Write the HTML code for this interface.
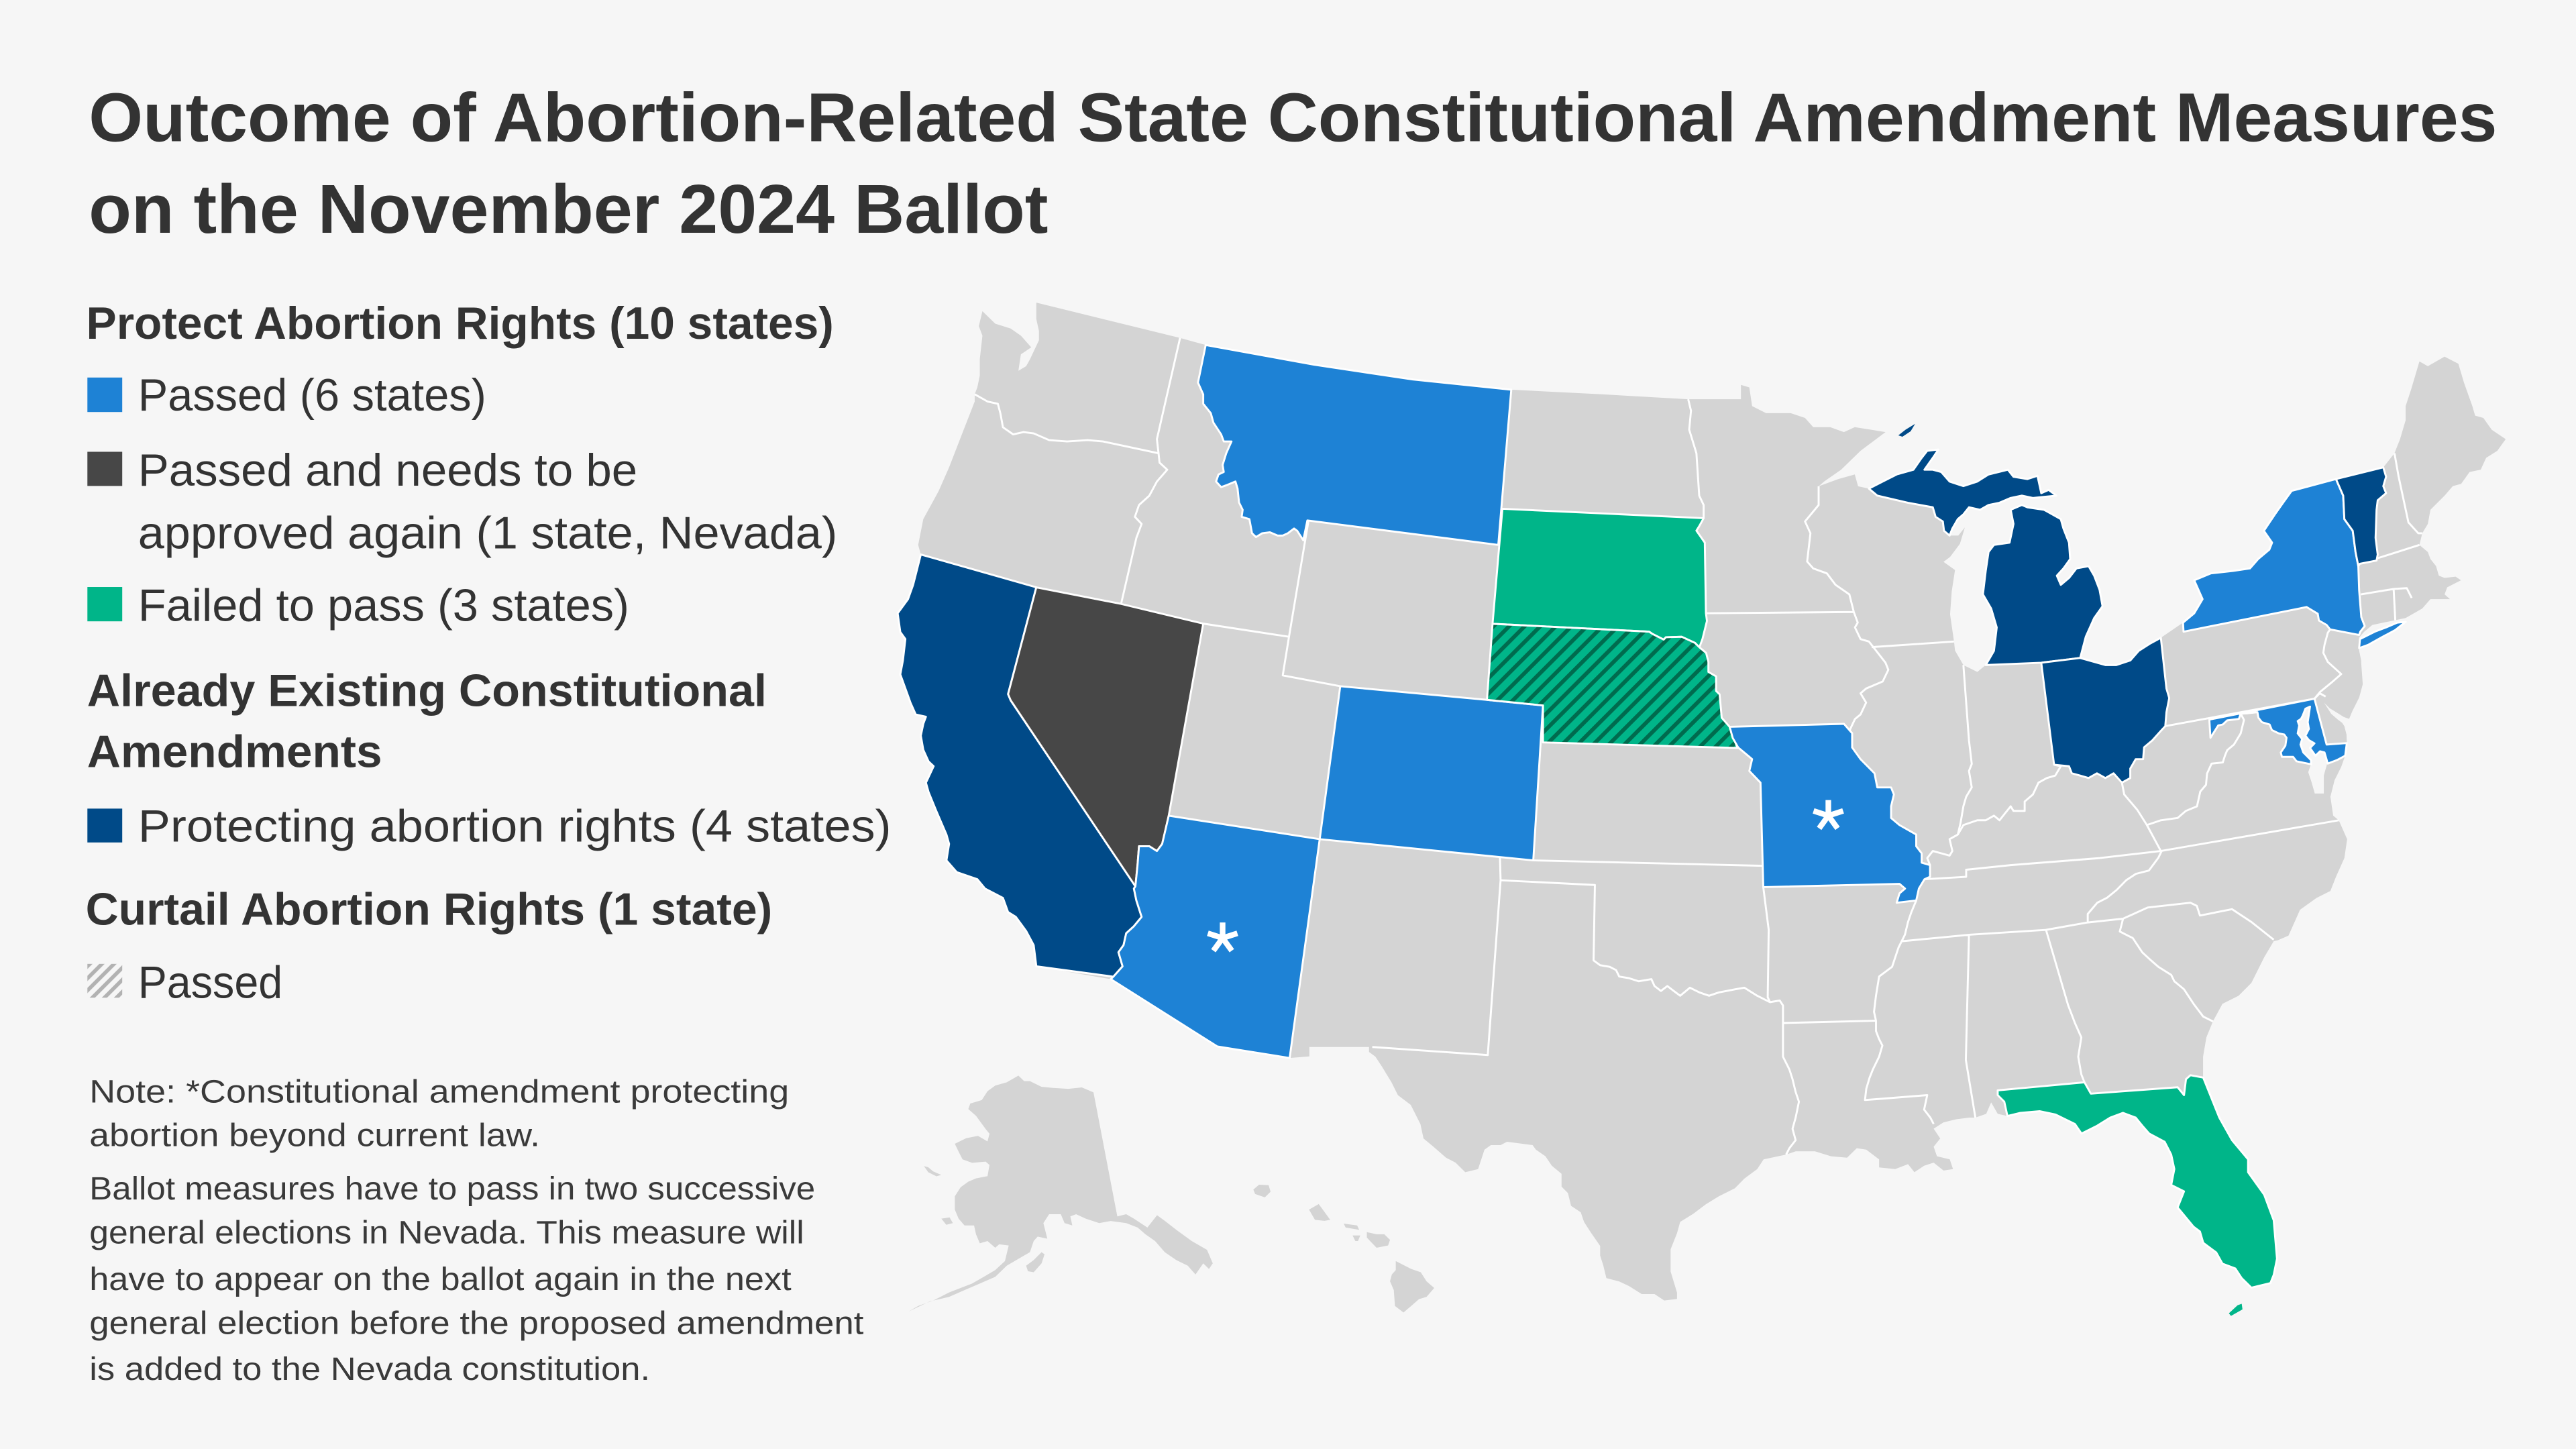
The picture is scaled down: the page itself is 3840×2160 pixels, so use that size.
<!DOCTYPE html>
<html><head><meta charset="utf-8"><style>html,body{margin:0;padding:0;background:#f6f6f6;overflow:hidden}svg{display:block}</style></head>
<body>
<svg xmlns="http://www.w3.org/2000/svg" width="3840" height="2160" viewBox="0 0 1568 882">
<defs>
<pattern id="hatch" patternUnits="userSpaceOnUse" width="6.7" height="6.7" patternTransform="rotate(45)">
<rect width="6.7" height="6.7" fill="#00b589"/><rect width="2.4" height="6.7" fill="#006b4e"/>
</pattern>
<pattern id="lhatch" patternUnits="userSpaceOnUse" width="5.2" height="5.2" patternTransform="rotate(45)">
<rect width="2.3" height="5.2" fill="#b2b2b2"/>
</pattern>
</defs>
<rect width="1568" height="882" fill="#f6f6f6"/>

<g font-family="'Liberation Sans', Arial, sans-serif" fill="#333333">
<text x="54" y="86" font-size="42" font-weight="bold" textLength="1466" lengthAdjust="spacingAndGlyphs">Outcome of Abortion-Related State Constitutional Amendment Measures</text>
<text x="54" y="141.6" font-size="42" font-weight="bold" textLength="584" lengthAdjust="spacingAndGlyphs">on the November 2024 Ballot</text>

<text x="52.5" y="206.2" font-size="27.5" font-weight="bold" textLength="455" lengthAdjust="spacingAndGlyphs">Protect Abortion Rights (10 states)</text>
<rect x="53.2" y="229.8" width="21.2" height="21" fill="#1e82d5"/>
<text x="84" y="249.8" font-size="27.5" textLength="212" lengthAdjust="spacingAndGlyphs">Passed (6 states)</text>
<rect x="53.2" y="275" width="21.2" height="20.8" fill="#474747"/>
<text x="84" y="295.7" font-size="27.5" textLength="304" lengthAdjust="spacingAndGlyphs">Passed and needs to be</text>
<text x="84" y="333.8" font-size="27.5" textLength="425.7" lengthAdjust="spacingAndGlyphs">approved again (1 state, Nevada)</text>
<rect x="53.2" y="357.3" width="21.2" height="20.9" fill="#00b589"/>
<text x="84" y="378" font-size="27.5" textLength="299" lengthAdjust="spacingAndGlyphs">Failed to pass (3 states)</text>

<text x="53" y="429.7" font-size="27.5" font-weight="bold" textLength="413.7" lengthAdjust="spacingAndGlyphs">Already Existing Constitutional</text>
<text x="53" y="467" font-size="27.5" font-weight="bold" textLength="179.6" lengthAdjust="spacingAndGlyphs">Amendments</text>
<rect x="53.2" y="492.2" width="21.2" height="20.6" fill="#004a88"/>
<text x="84" y="512.2" font-size="27.5" textLength="458.5" lengthAdjust="spacingAndGlyphs">Protecting abortion rights (4 states)</text>

<text x="52.1" y="562.9" font-size="27.5" font-weight="bold" textLength="418" lengthAdjust="spacingAndGlyphs">Curtail Abortion Rights (1 state)</text>
<rect x="53.2" y="586.7" width="21.2" height="20.6" fill="url(#lhatch)"/>
<text x="84" y="607.3" font-size="27.5" textLength="88" lengthAdjust="spacingAndGlyphs">Passed</text>

<g font-size="19.6" fill="#3a3a3a">
<text x="54.4" y="671" textLength="425.9" lengthAdjust="spacingAndGlyphs">Note: *Constitutional amendment protecting</text>
<text x="54.4" y="697.6" textLength="274.3" lengthAdjust="spacingAndGlyphs">abortion beyond current law.</text>
<text x="54.4" y="730.2" textLength="441.8" lengthAdjust="spacingAndGlyphs">Ballot measures have to pass in two successive</text>
<text x="54.4" y="756.8" textLength="435.1" lengthAdjust="spacingAndGlyphs">general elections in Nevada. This measure will</text>
<text x="54.4" y="785.3" textLength="427.3" lengthAdjust="spacingAndGlyphs">have to appear on the ballot again in the next</text>
<text x="54.4" y="811.9" textLength="471.3" lengthAdjust="spacingAndGlyphs">general election before the proposed amendment</text>
<text x="54.4" y="840" textLength="341.3" lengthAdjust="spacingAndGlyphs">is added to the Nevada constitution.</text>
</g>
</g>

<!-- US silhouette -->
<polygon fill="#d4d4d4" points="598,189.4 605.8,197 615.2,200 621.4,204.3 627.7,211.4 621.4,215.7 619.9,225.7 624.6,222.9 627,218.6 632.4,207.1 632.4,201.4 630.8,194.2 630.8,184.2 718.3,205.7 733.9,210 800,222 860,231 919.9,237.2 975,240 1027.6,243 1059.7,243 1059.7,234.3 1064.8,235.8 1066.5,247.2 1075,251.5 1090,251.5 1098.7,254.4 1103.7,260 1114,260 1122.4,263 1129,260 1139,261.6 1147.7,263 1132.5,274.4 1120.7,285.9 1110.5,293 1107,296 1119,291.6 1129,288.8 1131,296 1137.6,297.4 1146,293.1 1154.5,288.8 1164.7,285.9 1169.7,278.7 1173.1,274.4 1179.9,273.6 1176.5,278.7 1171.4,285.9 1176.5,285.9 1181.6,287.3 1186.7,293.1 1195.1,295.9 1203.6,293.1 1210.4,288.8 1222.2,285.9 1225.6,290.2 1234.1,291.6 1240.2,289.6 1242.5,300.2 1247,298.2 1251.7,301.7 1237.4,303.1 1230.7,301.7 1223.9,303.1 1217.1,306 1210.4,307.4 1205.3,310.3 1198.5,308.8 1195.1,313.1 1191.7,316 1188.4,321.7 1186.7,326 1192,326 1196,321 1193,331 1187,339 1183,342 1190,347 1188,360 1187,374 1189.4,390.5 1190,396 1195.1,404.8 1203.6,409 1208.7,404.8 1213.7,396.2 1215.4,381.9 1212,370.4 1207,361.8 1208.7,347.5 1210.4,336 1213.7,331.7 1223.2,330.3 1225.6,318.9 1223.9,310.3 1230.7,307.4 1234.1,308.8 1244.2,310.3 1254.4,316 1256,321.7 1259.4,330.3 1260.1,340.3 1256,346 1252,350.4 1254.4,356 1259.4,351.8 1263.9,346 1271.3,344.6 1274.7,350.4 1278,359 1279.8,369 1274.7,376.2 1269.6,387.6 1266.2,400.5 1281.5,404.8 1288.2,404.8 1296.7,402 1301.8,396.2 1308.5,391.9 1315.3,388.2 1328.8,379 1335.6,373.3 1340.7,364.7 1335.6,353.2 1345.8,349 1359.3,347.5 1369.5,346 1374.5,340.3 1381.3,334.6 1383,330.3 1378,323.1 1384.7,313.1 1389.7,306 1394.9,298.8 1421.9,291.6 1450.7,284.5 1457.5,275.9 1460.9,267.3 1464.3,255.8 1464.3,247.2 1467.6,237.2 1472.7,220 1477.8,222.9 1488,217.1 1496.4,221.4 1499.8,232.9 1504.9,247.2 1506.6,253 1511.6,254.4 1516.7,261.6 1525.2,267.3 1520.1,274.4 1513.3,278.7 1510,285.9 1503.2,287.3 1498.1,294.5 1493,295.9 1488,301.7 1479.4,310.3 1477.8,318.9 1474.4,324.6 1472.7,331.7 1477.8,336 1479.4,340.3 1482.8,344.6 1484.5,350.4 1488,351.8 1494.7,351 1498,353.2 1489.6,357.5 1488,361.8 1491.3,364.7 1484.5,364.7 1479.4,364.7 1474.4,370.4 1464.3,376.2 1457.5,377.6 1444,380.4 1438.9,384.7 1436,388 1436,396 1437.2,401.9 1437.3,404.2 1438.2,416.5 1436,424.6 1431.9,432.8 1429.9,437.6 1424,435.5 1419,432 1415.5,428.5 1419,434 1424,437.5 1427,442 1428.3,447 1428.5,452.3 1427.5,460 1425,467 1421,475 1418.5,485 1420.2,496.5 1423.6,499.3 1428.7,510.8 1427,522.3 1421.9,533.7 1418.5,542.3 1410,546.6 1400,553.8 1393,569.5 1386.4,572.4 1384,572.9 1378.2,582.7 1374.3,590.5 1370.4,598.3 1362.6,606.1 1352.8,611 1347,621.7 1343,631.5 1341,643.2 1341,655 1347,670.6 1350.9,680.3 1358.6,694 1368.4,705.7 1368.4,713.5 1378.2,727.2 1384,742.8 1386,766.2 1384,776 1382,781 1370.4,783.8 1364.5,778 1360.6,772.1 1352.8,769.2 1349,762.4 1341.1,756.5 1339.1,749.6 1335.2,746.7 1325.5,735 1329.4,725.2 1321.6,721.3 1323.5,711.6 1321.6,702.8 1317.6,695 1308.2,690 1304,685.2 1300,680.3 1292.3,677.4 1284.5,680.3 1276.6,685.2 1267,690 1263,684.2 1251.2,678.4 1241.5,676.4 1229.8,677.4 1222,679.3 1216,678 1212,671 1209,678 1202.4,680.3 1198.5,680.3 1190.7,681.3 1183,683.2 1177,687 1181,693 1177,698 1179,703.8 1186.8,705.7 1188.8,711.6 1183,712.5 1177,707.7 1171.2,709.6 1165.3,713.5 1161.4,708.6 1153.6,711.6 1143.8,710.6 1143.8,705.7 1136,699.8 1130.2,698.9 1124.3,704.7 1114.5,703.8 1104.8,700.8 1093,700.8 1087.2,702.8 1073.5,705.7 1069.6,711.6 1061.8,717.4 1056,723.3 1046.2,728.2 1038.4,733 1030.6,738.9 1022.7,743.8 1020.8,750.6 1016.9,760.4 1016.9,774 1020.8,786.8 1020.8,790.7 1013,791.6 1007.1,787.7 999.3,787.7 991.5,782.8 985.6,780 977.8,778 975.9,770.2 974,764.3 974,758.4 968,749.7 964.2,743.8 962.2,737.9 956.3,734 954.4,726.2 950.5,722.3 950.5,714.5 944.6,709.6 940.7,703.8 934.9,699.8 932.9,697 925.1,696 917.3,695 913.4,697 907.5,697 903.6,699.8 899.7,711.6 891.9,713.5 886,707.7 880.2,704.7 872.4,697.9 866.5,693 864.6,684.2 858.7,672.5 850.9,666.6 847,658.8 841.1,649.1 837.2,643.2 833.3,640.3 833.3,637.3 797,637.3 797,643 785,644 741,637 676.1,596 630.8,588.2 629.2,575.3 624.6,566.7 618.3,558.1 613.6,555.2 610.5,546.6 599.6,540.9 594.9,535.2 582.4,530.9 576.1,523.7 577.7,513.7 576.1,508 573,500.8 569.9,493.6 565.2,482.1 563.6,476.4 568.3,466.4 565.2,463.5 562,456.4 560.5,447.8 562,440.6 563.6,436.3 557.4,434.9 554.2,427.7 551.1,419.1 548,410.5 549.6,402 551.1,389 548,384.7 546.4,373.3 552.7,364.7 555.8,356 560.5,337.5 558.9,331.7 562,316 566.7,307.4 571.4,298.8 577.7,284.5 585.5,264.4 593.3,244.4 593.3,240 594.9,235.8 596.4,228.6 596.4,218.6 598,204.3 595.8,198.5"/>

<!-- Chesapeake, Delaware bay, SF bay -->
<polygon fill="#f6f6f6" points="1403.3,431.4 1406.1,430.1 1404.7,439.6 1405.4,443.7 1403.3,447.8 1405.4,450.5 1408.8,452.5 1406.1,455.3 1409.4,460 1412.2,457.3 1414.9,458 1416.5,465 1414.5,472 1414.5,483 1409,483 1407,476 1405,470 1406.7,465.2 1406.7,462.7 1402,458 1400.3,453.2 1401.3,449.8 1398.6,446.4 1399.5,441.6 1398.6,438.9 1400.6,437.6 1401.7,435.5"/>

<!-- gray interior borders -->
<path fill="none" stroke="#ffffff" stroke-width="1.2" stroke-linejoin="round" d="M593.3,240 L601.1,244.4 607.4,245.8 608.9,251.5 610.5,260.1 616.7,264.4 623,263 629.2,263.8 638.6,267.9 649.6,268.7 662,267.9 671.4,268.7 705.2,275.9
M718.3,205.7 L704.2,267.3 705.2,275.9 705.8,281.6 710.5,285.9 704.2,293.1 699.6,301.7 693.3,307.4 690.8,314.6 694.9,318.9 691.7,327.4 682.4,367.6
M732.4,379.6 L784.6,387.6
M796.4,317.4 L784.6,387.6 780.8,411.1 815.8,417.7
M1027.6,243 L1029.3,250 1028.2,261.5 1032.6,275.9 1034.3,301.7 1037,307.4 1037,315.4
M1038.4,373.3 L1128.4,372.5
M1107,296 L1107,307.4 1098.7,317.4 1102,324.6 1100,341.8 1103.7,346 1112,349 1117.3,356 1125.7,361.8 1128.4,372.5 1130.8,379 1129.1,381.9 1132.5,389 1137.6,390.5 1141,394.8 1147.7,403.4 1149.4,407.7 1146,414.8 1135.9,419.1 1132.5,422 1135.9,427.7 1132.5,434.9 1129.1,437.7 1125.7,444.9
M1139.3,393.9 L1189.4,390.5
M1195.1,404.8 L1196.8,427.7 1198.5,450.6 1200.2,465 1198.5,469.3 1200.2,479.3 1196.8,485 1195.1,490.8 1193.4,500.8 1191.7,508 1186.7,510.8 1188.4,518 1186.7,520.8 1181.6,519.4 1176.5,518 1173.1,522.3 1174.8,526.6
M1191.7,508 L1195.1,502.2 1203.6,499.3 1208.7,499.3 1213.7,496.5 1217.1,499.3 1220.5,495 1223.9,490.8 1225.6,493.6 1232.4,493.6 1232.4,487.9 1237.4,483.6 1240.8,476.4 1245.9,473.6 1251,472.1 1254.4,466.4 1250.3,465.5
M933.3,523.7 L1072.7,527
M913,521.7 L913.4,535.8 970.8,538.7 970,584.6 974,587.5 979.8,588.5 983.7,590.5 985.6,594.4 991.5,595.4 997.4,597.3 1005.2,596 1007.1,600.2 1011,603.2 1014.9,600.2 1018.8,603.2 1022.7,606.1 1028.6,601.2 1034.5,604.1 1040.3,606.1 1046.2,604.1 1056,602.2 1061.8,601.2 1069.6,606.1 1077.4,610 1083.3,609 1085.3,612 1085.3,622.7 1085.3,643.2 1089.2,651 1091.1,656.9 1093,664.7 1095,670.6 1093,680.3 1091.1,687.1 1093,694 1089.2,698.9 1087.2,702.8
M1073.3,540 L1076.6,566 1076,607 1077.4,610
M913.4,535.8 L905.6,642.2 835.3,637.3
M1085.3,622.7 L1141.9,621.3
M1166.4,548.1 L1163.4,555.3 1161.4,561.2 1159.5,569 1155.6,576.8 1151.7,588.5 1143.8,594.4 1141.9,606.1 1140.7,615.9 1141.9,621.3 1141.9,627.6 1143.8,632.5 1145.8,636.4 1143.8,643.2 1140,651 1138,656 1136,662.7 1135.2,669.6 1173.1,666.6 1171.2,675.4 1175,680.3 1177,684.2
M1157,573 L1198.5,569 1245.4,566 1270.8,561.5 1292.3,559.2
M1198.5,569 L1196.6,645.2 1202.4,680.3
M1245.4,566 L1258.9,612 1263,622.7 1266.9,631.5 1265,643.2 1266.9,654 1268.8,658.8
M1292.3,559.2 L1290.3,567 1298.2,571 1304,579.7 1308.2,583.6 1313.8,588.5 1321.6,593.4 1323.5,597.3 1329.4,602.2 1335.2,611 1341.1,618.8 1347,621.7
M1292.3,559.2 L1307.3,552.4 1333.3,549.5 1337.2,551.4 1339.1,557.3 1358.6,553.4 1370.4,561.2 1384,572
M1270.8,561.5 L1270.8,556.3 1276.6,549.5 1282.5,546.5 1288.4,541.7 1294.2,535.8 1300.1,531.9 1308,529.9 1313.8,522.1 1315.7,518.2
M1171.4,535.2 L1196.8,533.7 1196.8,529.4 1223.9,526.6 1278.1,522.3 1315.3,518 1423.6,499.3
M1315.3,518 L1306.8,502.2 1301,493 1293,483.6 1291.6,476.4
M1306.8,502.2 L1315.3,499.3 1325.5,497.9 1330.5,493.6 1337.3,490.8 1339.3,481.8 1342.8,477.7 1343.4,470.9 1346.2,464.8 1353,464.1 1354.3,460 1355.7,456.6 1359.8,453.2 1363.9,446.4 1365.9,438.2 1363.9,434.4
M1318,442 L1408.8,425.3 1412,422 1415.6,424
M1418.3,383.1 L1416.9,385.2 1414.9,392.6 1414.2,397.4 1416.9,402.9 1425.1,410.3 1419.6,415.1 1412.2,421.2 1408.8,425.3
M1457.5,275.9 L1460,290 1466,318 1472,324.6 1474.4,324.6
M1446.6,340 L1472.7,331.7
M1437,361.8 L1457,358.5 1465,358 1468,364
M1457,358.5 L1458,377.5"/>

<g stroke="#ffffff" stroke-width="1.2" stroke-linejoin="round">
<!-- California -->
<polygon fill="#004a88" points="560.5,337.5 630.8,357.5 613.6,422.5 615.2,426.3 691.1,539.5 690.2,540.9 691.7,548.1 694.9,558.1 690.2,563.8 685.5,568.1 683.9,575.3 680.8,579.6 683.3,588.2 677.7,594.5 630.8,588.2 629.2,575.3 624.6,566.7 618.3,558.1 613.6,555.2 610.5,546.6 599.6,540.9 594.9,535.2 582.4,530.9 576.1,523.7 577.7,513.7 576.1,508 573,500.8 569.9,493.6 565.2,482.1 563.6,476.4 568.3,466.4 565.2,463.5 562,456.4 560.5,447.8 562,440.6 563.6,436.3 557.4,434.9 554.2,427.7 551.1,419.1 548,410.5 549.6,402 551.1,389 548,384.7 546.4,373.3 552.7,364.7 555.8,356"/>
<!-- Nevada -->
<polygon fill="#474747" points="630.8,357.5 682.4,367.6 732.4,379.6 711.4,496.5 707.4,513.7 704.2,518 699.6,515.1 693.3,515.1 692.4,526.6 691.1,539.5 615.2,426.3 613.6,422.5"/>
<!-- Arizona -->
<polygon fill="#1e82d5" points="711.4,496.5 803.3,510.8 785,644 741,637 676.1,596 677.7,594.5 683.3,588.2 680.8,579.6 683.9,575.3 685.5,568.1 690.2,563.8 694.9,558.1 691.7,548.1 690.2,540.9 691.1,539.5 692.4,526.6 693.3,515.1 699.6,515.1 704.2,518 707.4,513.7"/>
<!-- Montana -->
<polygon fill="#1e82d5" points="733.9,210 800,222 860,231 919.9,237.2 912,331.7 795.8,316.8 793.3,328.9 789.6,323.1 787.7,321.7 783.9,324.6 780.8,326 777.7,326 773,324 768.3,324.6 764.5,326.9 762.1,324.6 760.5,316 755.8,314.6 756.4,310.3 754.2,305.9 753.3,297.4 752,293.1 746.4,295.4 743.3,296.5 740.2,293.1 741.7,288.8 744.9,287.3 744.2,283 746.4,275.9 749.6,268.7 744.9,268.7 743.3,264.4 738.6,257.3 737,251.5 732.4,245.8 732.4,240.1 729.2,232.9"/>
<!-- Colorado -->
<polygon fill="#1e82d5" points="815.8,417.7 905.1,426 939.2,429.4 933.3,523.7 803.3,510.8"/>
<!-- South Dakota -->
<polygon fill="#00b589" points="914.5,309.7 975,312.5 1037,315.4 1034.3,320.3 1032.6,323 1037.7,330.3 1038.4,373.3 1039,378 1036.3,388.9 1034.4,394 1031.7,391.3 1023.6,387.6 1014,387.9 1012.7,389.3 1005.9,385.9 1003.8,384.5 908.5,379.7"/>
<!-- Nebraska -->
<polygon fill="url(#hatch)" points="908.5,379.7 1003.8,384.5 1005.9,385.9 1012.7,389.3 1014,387.9 1023.6,387.6 1031.7,391.3 1034.4,394 1038.5,397.4 1039.9,402.9 1039.9,409 1044.6,411.7 1044.6,420.6 1046.7,422.6 1048,436.9 1052.8,442.4 1057.6,455.3 939.2,451.9 939.2,429.4 905.1,426"/>
<!-- Missouri -->
<polygon fill="#1e82d5" points="1052.8,442.4 1122.4,440.6 1127.4,446.3 1127.4,455 1132.5,462.1 1141,470.7 1142.7,479.3 1151.1,479.3 1152.8,483.6 1151.1,490.8 1151.1,497.9 1156.2,502.2 1166.4,508 1166.4,515.1 1169.7,519.4 1169.7,525.1 1174.8,526.6 1174.8,533.7 1171.4,535.2 1168,540.9 1166.4,548.1 1154.5,549.5 1156.2,543.8 1159.6,540.9 1156.2,538 1073.3,540 1071.6,476.4 1064.8,469.3 1066.5,462.1 1063.1,459.2 1058,455 1054.7,449.2"/>
<!-- Michigan -->
<polygon fill="#004a88" points="1137.6,297.4 1146,293.1 1154.5,288.8 1164.7,285.9 1169.7,278.7 1173.1,274.4 1179.9,273.6 1176.5,278.7 1171.4,285.9 1176.5,285.9 1181.6,287.3 1186.7,293.1 1195.1,295.9 1203.6,293.1 1210.4,288.8 1222.2,285.9 1225.6,290.2 1234.1,291.6 1240.2,289.6 1242.5,300.2 1247,298.2 1251.7,301.7 1237.4,303.1 1230.7,301.7 1223.9,303.1 1217.1,306 1210.4,307.4 1205.3,310.3 1198.5,308.8 1195.1,313.1 1191.7,316 1188.4,321.7 1186.7,326 1183.3,323.1 1182.6,317.4 1178.2,314.6 1176.5,308.8 1161.3,306 1142.7,301.7"/>
<polygon fill="#004a88" points="1208.7,404.8 1213.7,396.2 1215.4,381.9 1212,370.4 1207,361.8 1208.7,347.5 1210.4,336 1213.7,331.7 1223.2,330.3 1225.6,318.9 1223.9,310.3 1230.7,307.4 1234.1,308.8 1244.2,310.3 1254.4,316 1256,321.7 1259.4,330.3 1260.1,340.3 1256,346 1252,350.4 1254.4,356 1259.4,351.8 1263.9,346 1271.3,344.6 1274.7,350.4 1278,359 1279.8,369 1274.7,376.2 1269.6,387.6 1266.2,400.5 1242.5,403.4"/>
<polygon fill="#004a88" stroke="none" points="1155.5,265 1160,261.5 1165.7,258 1163,262.5 1158,265.8"/>
<!-- Ohio -->
<polygon fill="#004a88" points="1242.5,403.4 1266.2,400.5 1281.5,404.8 1288.2,404.8 1296.7,402 1301.8,396.2 1308.5,391.9 1315.3,388.2 1318.7,419.1 1320.4,424.9 1318.7,433.5 1318,442 1315.3,444.9 1310.2,450.6 1305.1,454.9 1304.5,462.1 1300,462.1 1296.7,467.8 1296.7,473.6 1291.6,476.4 1286.5,470.7 1281.5,473.6 1276.4,470.7 1271.3,473.6 1266.2,472.1 1261.1,470.7 1259.4,466.4 1250.3,465.5"/>
<!-- New York -->
<polygon fill="#1e82d5" points="1328.8,379 1335.6,373.3 1340.7,364.7 1335.6,353.2 1345.8,349 1359.3,347.5 1369.5,346 1374.5,340.3 1381.3,334.6 1383,330.3 1378,323.1 1384.7,313.1 1389.7,306 1394.9,298.8 1421.9,291.6 1426.3,301.7 1427,316 1432.1,323.1 1433.8,336 1435.5,344.6 1436,359.3 1437.3,375.6 1439.4,381.1 1436.7,384.5 1436,386.5 1418.3,383.1 1416.2,380.4 1411.5,377.7 1410.8,373.6 1404,369.5 1329.1,384.5"/>
<polygon fill="#1e82d5" points="1436.5,389 1445.5,384.5 1452.4,381.9 1459.2,379 1464.3,378.5 1458,383.5 1449.6,388 1441.5,392.5 1436,394.5"/>
<!-- Vermont -->
<polygon fill="#004a88" points="1421.9,291.6 1450.7,284.5 1452.4,290.2 1450.7,295.9 1452.4,300.2 1447.3,304.5 1446.6,310.3 1446,327.4 1447.3,337.5 1446.6,341.2 1436.4,343.2 1435.5,344.6 1433.8,336 1432.1,323.1 1427,316 1426.3,301.7"/>
<!-- Maryland -->
<polygon fill="#1e82d5" points="1344.8,438 1408.8,425.3 1416.2,453.2 1428.5,452.3 1427.5,460 1422.4,462.7 1416.9,464.8 1414.9,458 1412.2,457.3 1409.4,460 1406.1,455.3 1408.8,452.5 1405.4,450.5 1403.3,447.8 1405.4,443.7 1404.7,439.6 1406.1,430.1 1403.3,431.4 1401.7,435.5 1400.6,437.6 1398.6,438.9 1399.5,441.6 1398.6,446.4 1401.3,449.8 1400.3,453.2 1402,458 1406.7,462.7 1406.7,465.2 1397.9,463.4 1395.8,460.7 1391.1,460.7 1389,460.7 1388.3,458 1391.1,453.9 1391.8,449.1 1390.4,447.1 1387,446.4 1382.9,444.4 1381.5,441 1376.8,439.6 1374.7,436.9 1374.1,433.5 1367.9,434.2 1363.9,434.4 1362.8,437.6 1355.7,438.5 1353,441 1350.2,441.6 1345.5,449.1"/>
<!-- Florida -->
<polygon fill="#00b589" points="1216,663.7 1268.8,658.8 1272.7,665.7 1325.5,661.8 1329.4,666.6 1330.6,656.9 1333.3,654.5 1341.1,655.9 1347,670.6 1350.9,680.3 1358.6,694 1368.4,705.7 1368.4,713.5 1378.2,727.2 1384,742.8 1386,766.2 1384,776 1382,781 1370.4,783.8 1364.5,778 1360.6,772.1 1352.8,769.2 1349,762.4 1341.1,756.5 1339.1,749.6 1335.2,746.7 1325.5,735 1329.4,725.2 1321.6,721.3 1323.5,711.6 1321.6,702.8 1317.6,695 1308.2,690 1304,685.2 1300,680.3 1292.3,677.4 1284.5,680.3 1276.6,685.2 1267,690 1263,684.2 1251.2,678.4 1241.5,676.4 1229.8,677.4 1222,679.3 1221.7,678.4 1220,670.6 1216,666.6"/>
<polygon fill="#00b589" stroke="none" points="1356.7,799.4 1362,794.5 1364.5,793.6 1365,797 1358,801"/>
</g>

<!-- Delaware bay -->
<polygon fill="#f6f6f6" points="1414.5,427.5 1417,430.5 1422,433.5 1426,436 1429.5,438.5 1427,441 1423,438 1419,434.5"/>

<!-- asterisks -->
<g stroke="#ffffff" stroke-width="3.4" stroke-linecap="butt">
<path d="M744.2,571 L744.2,561.5 M744.2,571 L753.2,568.1 M744.2,571 L749.8,578.7 M744.2,571 L738.6,578.7 M744.2,571 L735.2,568.1"/>
<path d="M1112.9,496.5 L1112.9,487 M1112.9,496.5 L1121.9,493.6 M1112.9,496.5 L1118.5,504.2 M1112.9,496.5 L1107.3,504.2 M1112.9,496.5 L1103.9,493.6"/>
</g>

<!-- Alaska -->
<g fill="#d4d4d4">
<polygon points="619.9,654.7 623.4,658.1 626.9,658.1 633.9,661.5 641,662.2 650.3,662.8 658.5,661.9 665.6,664.9 680.1,740.4 685.5,739.1 690.2,741.8 698.4,747.2 704.3,739.7 709,743.1 716,748.6 725.4,755.4 734.7,760.8 738.2,769 735.9,772.4 732.4,769 727.7,775.8 723,770.4 716,767 709,762.2 703.1,755.4 697.2,751.3 692.5,747.2 685.5,744.5 676.1,743.2 669.1,744.5 660.9,741.8 655,739.1 651.5,740.4 652.7,745.9 648,744.5 645.7,739.1 638.6,739.1 635.1,744.5 637.5,754 631.6,752.7 629.2,755.4 626.9,762.2 622.2,764.9 612.8,770.4 605.8,777.2 596.4,781.3 587.1,785.3 577.7,789.4 566,792.1 553.1,798.3 558.9,794.9 568.3,791.5 577.7,786.7 591.7,781.3 598.8,777.2 605.8,773.1 611.7,767.6 614,758.1 608.2,757.4 605.8,759.5 601.1,755.4 596.4,756.8 594.1,751.3 592.9,745.9 587.1,745.9 583.5,741.8 581.2,736.3 581.2,728.2 584.7,722.7 589.4,719.3 594.1,717.3 601.1,715.9 602.3,709.1 600,707.1 591.7,707.8 585.9,705.7 583.5,701 581.2,696.2 588.2,692.8 595.3,691.4 601.1,694.8 602.3,690.1 600,687.3 594.1,679.2 589.4,675.1 590.6,671.7 597.6,669.6 601.1,664.2 605.8,660.8 612.8,658.8"/>
<polygon points="624.6,770.4 629.2,767 634,762.2 635.8,763.5 634,769 629.2,774.4 625.7,773.8"/>
<polygon points="562.4,709.8 565,710.5 568,713 573,715.2 570,716 565,713.5"/>
<polygon points="573,741.8 578,741 580,744.5 576,745.5"/>
<!-- Hawaii -->
<polygon points="762.9,724.1 766.4,721.1 772.2,721.4 773.4,725.4 769.9,728.8 764,726.8"/>
<polygon points="796.8,736.3 802.7,732.9 809.7,742.5 806.2,743.1 800.4,742.5"/>
<polygon points="817.9,744.8 826.1,745.9 827.3,748.6 819.1,747.2"/>
<polygon points="823.3,752 828,752 826.6,755.4 825,755.4"/>
<polygon points="832,750 837.9,751.3 842.6,751.3 846.1,754.7 844.9,758.1 837.9,759.5 832,753.3"/>
<polygon points="849.6,767.6 859,772.4 864.8,774.4 868.3,779.9 873,784 868.3,789.4 863.7,790.8 859,794.9 854.3,798.9 849.1,794.9 848.4,785.3 846.1,779.9 847.2,775.8 849.6,773.1"/>
</g>
</svg>
</body></html>
